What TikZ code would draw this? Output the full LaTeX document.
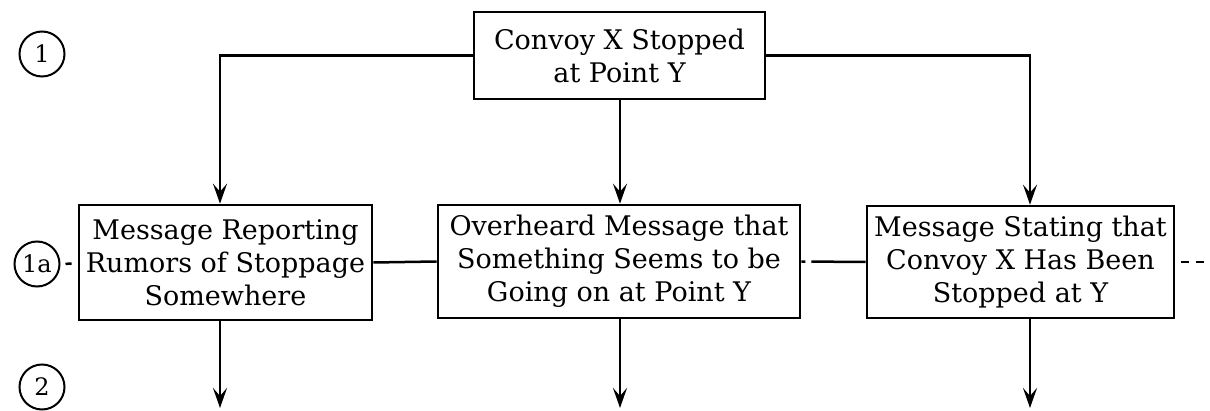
\documentclass[tikz,border=0pt]{standalone}
\usepackage{fontspec}
\setmainfont{DejaVu Serif}
\usetikzlibrary{arrows.meta}
\begin{document}
\begin{tikzpicture}[x=1pt,y=-1pt,
  line width=2.5pt,
  box/.style={draw, line width=2.6pt, inner sep=0pt, align=center,
    font=\fontsize{27}{33}\selectfont},
  lvl/.style={draw, circle, line width=2pt, minimum size=45pt, inner sep=0pt,
    font=\fontsize{24}{28}\selectfont},
  arr/.style={-{Stealth[length=20pt,width=14pt,inset=8pt]}},
]
\useasboundingbox (0,0) rectangle (1210,411);
% level markers
\node[lvl] (c1) at (42,54) {1};
\node[lvl] (c1a) at (37,264) {1a};
\node[lvl] (c2) at (42,387) {2};
% boxes
\node[box, minimum width=291pt, minimum height=87pt] (top) at (619.5,55.5)
  {Convoy X Stopped\\at Point Y};
\node[box, minimum width=293pt, minimum height=115pt] (b1) at (225.5,262.5)
  {Message Reporting\\Rumors of Stoppage\\Somewhere};
\node[box, minimum width=362pt, minimum height=113pt] (b2) at (619,261.5)
  {Overheard Message that\\Something Seems to be\\Going on at Point Y};
\node[box, minimum width=307pt, minimum height=112pt] (b3) at (1020.5,262)
  {Message Stating that\\Convoy X Has Been\\Stopped at Y};
% guide coordinates
\coordinate (x1) at (220,0);
\coordinate (x2) at (620,0);
\coordinate (x3) at (1030,0);
\coordinate (bot) at (0,408);
\coordinate (rend) at (1210,262);
% top distribution
\draw[arr] (top.west) -- (top.west -| x1) -- (b1.north -| x1);
\draw[arr] (top.east) -- (top.east -| x3) -- (b3.north -| x3);
\draw[arr] (top.south -| x2) -- (b2.north -| x2);
% middle row links
\draw[shorten <=5pt, shorten >=6pt] (c1a) -- (b1);
\draw (b1.east) -- (b2.west);
\draw[dash pattern=on 4pt off 6pt on 200pt] (b2.east) -- (b3.west);
\draw[dash pattern=on 8pt off 7pt, shorten <=6pt] (b3.east) -- (rend);
% outgoing arrows
\draw[arr] (b1.south -| x1) -- (bot -| x1);
\draw[arr] (b2.south -| x2) -- (bot -| x2);
\draw[arr] (b3.south -| x3) -- (bot -| x3);
\end{tikzpicture}
\end{document}
